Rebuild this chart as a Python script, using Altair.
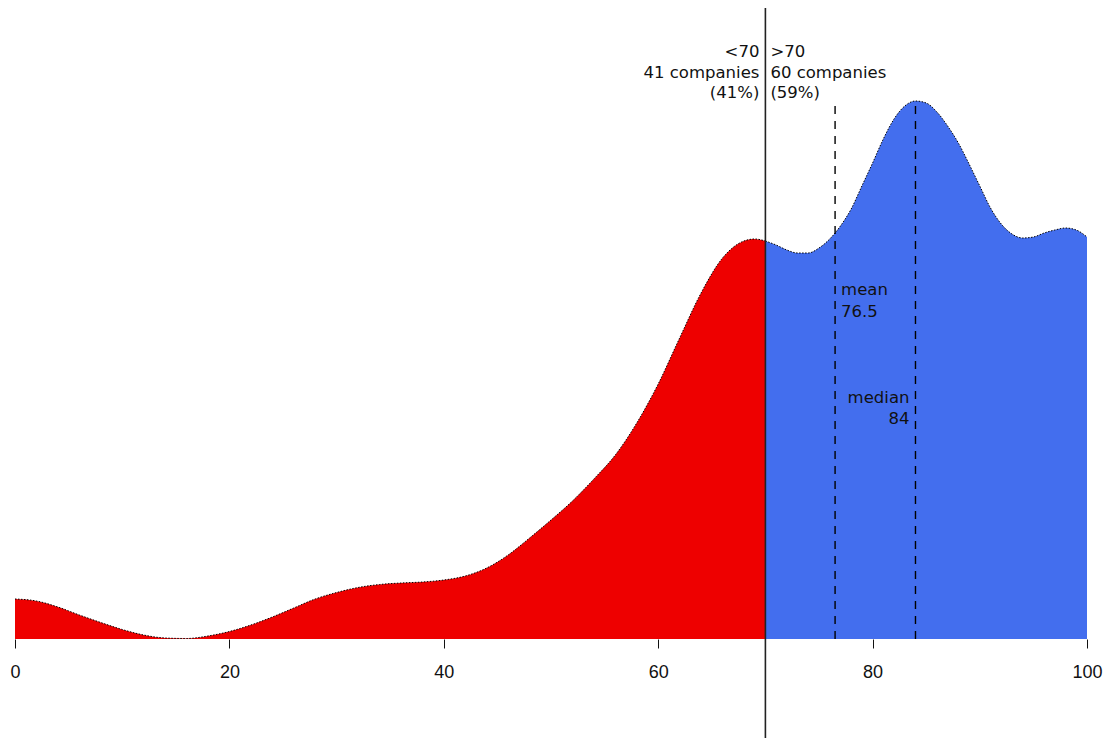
import altair as alt
import pandas as pd

# Density estimate (relative units)
low_x = [0, 2, 4, 6, 8, 10, 12, 14, 16, 18, 20, 22, 24, 26, 28, 30, 32, 34, 36, 38,
         40, 42, 44, 46, 48, 50, 52, 54, 56, 58, 60, 62, 64, 66, 68, 69, 70]
low_y = [40, 38, 32, 24, 16.5, 9.5, 4, 1, 0.5, 3, 7.5, 14, 22, 31, 40, 46.5, 51.5, 54.5, 56, 57,
         59, 63, 71, 84, 101, 119, 138, 160, 184, 216, 255, 301, 346, 381, 398, 400, 398]
high_x = [70, 71, 72, 73, 74, 75, 76, 77, 78, 79, 80, 81, 82, 83, 84, 85, 86, 87, 88,
          89, 90, 91, 92, 93, 94, 95, 96, 97, 98, 99, 100]
high_y = [398, 394, 389, 386, 386, 391, 400, 413, 430, 453, 476, 500, 520, 533, 538,
          536, 527, 513, 496, 475, 453, 431, 415, 405, 401, 402, 406, 409, 411, 409, 402]

threshold = 70
stat_names = ["mean", "median"]
stat_values = [76.5, 84]

left_lines = ["<70", "41 companies", "(41%)"]
right_lines = [">70", "60 companies", "(59%)"]
mean_lines = ["mean", "76.5"]
median_lines = ["median", "84"]

RED = "#EE0000"
BLUE = "#436EEE"
FONT = "Liberation Sans"
TFONT = "DejaVu Sans"

dens = pd.DataFrame({
    "score": low_x + high_x,
    "density": low_y + high_y,
    "group": ["low"] * len(low_x) + ["high"] * len(high_x),
})
peak = max(low_y + high_y)

W, H = 1072, 631
xs = alt.Scale(domain=[0, 100], nice=False, zero=False)
ys = alt.Scale(domain=[0, 631], nice=False, zero=False)

area = alt.Chart(dens).mark_area(interpolate="monotone").encode(
    x=alt.X("score:Q", scale=xs,
            axis=alt.Axis(values=[0, 20, 40, 60, 80, 100], title=None, domain=False,
                          grid=False, tickSize=9, tickColor="#111", tickWidth=1,
                          labelFontSize=18, labelFont=FONT, labelColor="#111",
                          labelPadding=15, labelFlush=False)),
    y=alt.Y("density:Q", scale=ys, stack=None, axis=None),
    color=alt.Color("group:N", scale=alt.Scale(domain=["low", "high"], range=[RED, BLUE]),
                    legend=None),
    detail="group:N",
)

outline = alt.Chart(dens).mark_line(interpolate="monotone", color="#000", strokeWidth=1,
                                    strokeDash=[1.5, 1.5]).encode(
    x=alt.X("score:Q", scale=xs),
    y=alt.Y("density:Q", scale=ys),
    detail="group:N",
)

stats = pd.DataFrame({"name": stat_names, "value": stat_values,
                      "lo": [0, 0], "hi": [peak, peak]})
dashed = alt.Chart(stats).mark_rule(color="#000", strokeWidth=1.4,
                                    strokeDash=[8, 7]).encode(
    x=alt.X("value:Q", scale=xs),
    y=alt.Y("lo:Q", scale=ys),
    y2="hi:Q",
)

vline = alt.Chart(pd.DataFrame({"t": [threshold]})).mark_rule(
    color="#222", strokeWidth=1.6).encode(
    x=alt.X("t:Q", scale=xs),
    y=alt.value(0),
    y2=alt.value(740),
)


def text_layer(lines, xval, ytop, align, dx, step=20.5):
    df = pd.DataFrame({"txt": lines,
                       "x": [xval] * len(lines),
                       "y": [ytop - i * step for i in range(len(lines))]})
    return alt.Chart(df).mark_text(align=align, baseline="alphabetic", dx=dx,
                                   fontSize=16.5, font=TFONT, color="#111").encode(
        x=alt.X("x:Q", scale=xs), y=alt.Y("y:Q", scale=ys), text="txt:N")


texts = (text_layer(left_lines, threshold, 582, "right", -6)
         + text_layer(right_lines, threshold, 582, "left", 5)
         + text_layer(mean_lines, stat_values[0], 344, "left", 6, step=22)
         + text_layer(median_lines, stat_values[1], 236, "right", -6))

chart = alt.layer(area, outline, dashed, vline, texts).properties(
    width=W, height=H,
    autosize=alt.AutoSizeParams(type="none"),
    padding={"left": 7, "top": 0, "right": 17, "bottom": 99},
).configure(background="white").configure_view(stroke=None)

chart.save("out.html", embed_options={"renderer": "svg", "actions": False})
